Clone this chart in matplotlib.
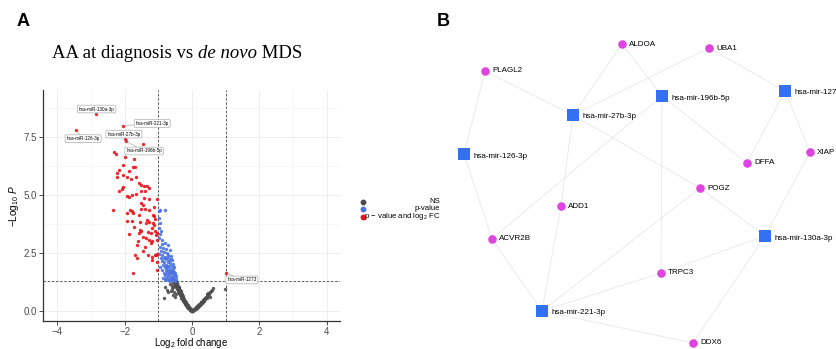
import matplotlib
matplotlib.use("Agg")
import matplotlib.pyplot as plt
from matplotlib.lines import Line2D
import numpy as np

# ---------------- Panel A data (log2 fold change, -log10 P) ----------------
red_lfc = [-2.84, -2.05, -3.43, -2.00, -1.97, -1.46, -2.31, -2.26, -1.98, -1.72,
           -2.06, -1.76, -1.70, -1.88, -2.18, -2.23, -2.06, -2.23, -1.93, -1.82,
           -1.66, -1.58, -1.50, -1.42, -1.34, -1.50, -1.39, -1.28, -2.04, -2.09,
           -2.16, -1.93, -1.88, -1.78, -1.67, -1.42, -1.28, -1.05, -1.51, -1.45,
           -1.12, -2.35, -1.84, -1.78, -1.76, -1.94, -1.51, -1.39, -1.28, -1.56,
           -1.17, -1.12, -1.33, -1.28, -1.36, -1.94, -1.78, -1.54, -1.10, -1.12,
           -1.16, -1.72, -1.54, -1.51, -1.56, -1.31, -1.23, -1.10, -1.05, -1.86,
           -1.45, -1.36, -1.27, -1.20, -1.23, -1.07, -1.03, -1.62, -1.39, -1.69,
           -1.63, -1.30, -1.20, -1.08, -1.04, -1.74, -1.03, -1.19, -1.11, -1.03,
           -1.18, -1.45, -1.60, 1.01]
red_p = [8.50, 7.99, 7.79, 7.40, 7.33, 7.21, 6.84, 6.75, 6.64, 6.56,
         6.29, 6.21, 6.22, 6.05, 6.06, 5.94, 5.86, 5.76, 5.79, 5.70,
         5.76, 5.53, 5.42, 5.39, 5.39, 5.19, 5.19, 5.29, 5.36, 5.27,
         5.19, 4.96, 4.93, 4.99, 5.04, 4.86, 4.84, 4.81, 4.64, 4.58,
         4.50, 4.35, 4.35, 4.32, 4.21, 4.24, 4.41, 4.38, 4.35, 4.15,
         4.15, 4.11, 3.92, 3.82, 3.78, 3.89, 3.88, 3.82, 3.95, 3.71,
         3.78, 3.63, 3.49, 3.45, 3.35, 3.42, 3.35, 3.44, 3.38, 3.33,
         3.20, 3.13, 3.06, 3.03, 2.94, 3.28, 3.06, 2.84, 2.77, 2.41,
         2.27, 2.41, 2.20, 2.41, 2.13, 1.63, 1.75, 2.34, 2.40, 2.44,
         3.60, 2.60, 3.00, 1.65]

blue_lfc = [-0.99, -0.95, -0.80, -0.99, -0.96, -0.97, -0.92, -0.94, -0.98, -0.88,
            -0.80, -0.72, -0.90, -0.96, -0.86, -0.78, -0.66, -0.92, -0.82, -0.74,
            -0.97, -0.88, -0.70, -0.62, -0.80, -0.93, -0.84, -0.76, -0.68, -0.60,
            -0.90, -0.72, -0.82, -0.64, -0.56, -0.86, -0.77, -0.69, -0.60, -0.94,
            -0.81, -0.73, -0.65, -0.55, -0.88, -0.78, -0.70, -0.62, -0.52, -0.84,
            -0.75, -0.67, -0.58, -0.50, -0.80, -0.72, -0.63, -0.55, -0.86, -0.76,
            -0.68, -0.60, -0.52, -0.80, -0.71, -0.64, -0.56, -0.48, -0.46, -0.49,
            -0.58, -0.66, -0.74, -0.54, -0.62, -0.70, -0.50, -0.57]
blue_p = [4.30, 4.36, 4.34, 4.02, 3.80, 3.60, 3.45, 3.30, 3.15, 3.05,
          2.95, 2.85, 2.90, 2.75, 2.72, 2.68, 2.62, 2.58, 2.55, 2.50,
          2.45, 2.42, 2.40, 2.38, 2.35, 2.30, 2.27, 2.24, 2.20, 2.18,
          2.15, 2.12, 2.10, 2.06, 2.04, 2.00, 1.98, 1.95, 1.93, 1.90,
          1.88, 1.85, 1.82, 1.80, 1.78, 1.75, 1.72, 1.70, 1.68, 1.66,
          1.63, 1.60, 1.58, 1.55, 1.54, 1.51, 1.48, 1.46, 1.44, 1.42,
          1.40, 1.37, 1.35, 1.33, 1.32, 1.31, 1.34, 1.40, 1.50, 1.62,
          1.74, 1.68, 1.96, 1.90, 2.26, 2.32, 1.30, 1.44]

grey_lfc = [-0.52, -0.50, -0.48, -0.47, -0.51, -0.45, -0.49, -0.44, -0.46, -0.42,
            -0.48, -0.43, -0.40, -0.45, -0.41, -0.38, -0.43, -0.39, -0.36, -0.41,
            -0.37, -0.34, -0.39, -0.35, -0.32, -0.36, -0.33, -0.30, -0.34, -0.31,
            -0.28, -0.32, -0.29, -0.26, -0.29, -0.27, -0.24, -0.26, -0.23, -0.21,
            -0.24, -0.21, -0.19, -0.21, -0.18, -0.16, -0.18, -0.15, -0.13, -0.14,
            -0.12, -0.10, -0.11, -0.09, -0.07, -0.07, -0.05, -0.04, -0.03, -0.02,
            0.00, -0.80, -0.82, -0.75, -0.70, -0.62, -0.60, -0.58, -0.55, -0.57,
            -0.65, -0.53, -0.50, -0.48, -0.55,
            0.02, 0.04, 0.06, 0.07, 0.09, 0.10, 0.12, 0.13, 0.15, 0.16,
            0.18, 0.19, 0.21, 0.22, 0.24, 0.25, 0.27, 0.28, 0.30, 0.31,
            0.33, 0.34, 0.36, 0.37, 0.39, 0.40, 0.42, 0.44, 0.45, 0.47,
            0.50, 0.52, 0.55, 0.58, 0.61, 0.53, 0.48, 0.43, 0.98, 0.01, -0.01,
            -0.44, -0.40, -0.37, -0.33, -0.30, -0.27, -0.23, -0.20, -0.17, -0.13,
            0.08, 0.14, 0.20, 0.26, 0.32, 0.38, 0.46]
grey_p = [1.28, 1.25, 1.29, 1.22, 1.18, 1.20, 1.12, 1.15, 1.08, 1.10,
          1.04, 1.02, 1.05, 0.97, 0.95, 0.98, 0.90, 0.88, 0.92, 0.84,
          0.82, 0.85, 0.78, 0.75, 0.79, 0.70, 0.68, 0.72, 0.63, 0.62,
          0.65, 0.57, 0.55, 0.58, 0.50, 0.48, 0.51, 0.43, 0.42, 0.45,
          0.37, 0.35, 0.38, 0.30, 0.29, 0.31, 0.24, 0.22, 0.25, 0.18,
          0.16, 0.19, 0.12, 0.10, 0.13, 0.07, 0.05, 0.08, 0.03, 0.01,
          0.02, 1.02, 0.56, 0.92, 0.80, 0.85, 1.10, 0.95, 0.70, 1.20,
          1.15, 0.82, 0.60, 0.72, 1.05,
          0.02, 0.05, 0.04, 0.09, 0.07, 0.12, 0.10, 0.16, 0.14, 0.20,
          0.18, 0.24, 0.22, 0.28, 0.26, 0.32, 0.30, 0.37, 0.35, 0.41,
          0.39, 0.46, 0.44, 0.50, 0.55, 0.52, 0.60, 0.64, 0.58, 0.70,
          0.75, 0.80, 0.85, 0.92, 1.00, 0.62, 0.78, 0.72, 0.95, 0.00, 0.00,
          1.06, 0.94, 0.86, 0.74, 0.66, 0.54, 0.46, 0.34, 0.27, 0.21,
          0.09, 0.19, 0.30, 0.39, 0.48, 0.57, 0.67]

label_names = ["hsa-miR-130a-3p", "hsa-miR-221-3p", "hsa-miR-126-3p",
               "hsa-miR-27b-3p", "hsa-miR-196b-5p", "hsa-miR-1273"]
label_lfc = [-2.84, -2.05, -3.43, -2.00, -1.97, 1.01]
label_p = [8.50, 7.99, 7.79, 7.40, 7.33, 1.65]
# label box placement (layout)
label_box = [(-2.83, 8.71), (-1.18, 8.09), (-3.23, 7.43), (-2.02, 7.63),
             (-1.42, 6.90), (1.48, 1.34)]

x_ticks = [-4, -2, 0, 2, 4]
y_ticks = [0.0, 2.5, 5.0, 7.5]
legend_labels = ["NS", "p-value", r"p $-$ value and log$_2$ FC"]

# ---------------- Panel B data (network) ----------------
mirnas = ["hsa-mir-27b-3p", "hsa-mir-196b-5p", "hsa-mir-1273", "hsa-mir-126-3p",
          "hsa-mir-130a-3p", "hsa-mir-221-3p"]
genes = ["ALDOA", "UBA1", "PLAGL2", "DFFA", "XIAP", "POGZ", "ADD1", "ACVR2B",
         "TRPC3", "DDX6"]
edges = [("PLAGL2", "hsa-mir-27b-3p"), ("PLAGL2", "hsa-mir-126-3p"),
         ("ALDOA", "hsa-mir-27b-3p"), ("ALDOA", "hsa-mir-196b-5p"),
         ("UBA1", "hsa-mir-27b-3p"), ("UBA1", "hsa-mir-1273"),
         ("hsa-mir-1273", "DFFA"), ("hsa-mir-1273", "XIAP"),
         ("hsa-mir-196b-5p", "DFFA"), ("hsa-mir-196b-5p", "TRPC3"),
         ("hsa-mir-196b-5p", "ACVR2B"), ("hsa-mir-27b-3p", "ADD1"),
         ("hsa-mir-27b-3p", "POGZ"), ("ADD1", "hsa-mir-221-3p"),
         ("hsa-mir-126-3p", "ACVR2B"), ("ACVR2B", "hsa-mir-221-3p"),
         ("hsa-mir-221-3p", "POGZ"), ("hsa-mir-221-3p", "TRPC3"),
         ("hsa-mir-221-3p", "DDX6"), ("POGZ", "hsa-mir-130a-3p"),
         ("TRPC3", "hsa-mir-130a-3p"), ("hsa-mir-130a-3p", "DDX6"),
         ("XIAP", "hsa-mir-130a-3p")]
# network layout (pixel-like layout coordinates)
layout = {"ALDOA": (622, 44), "UBA1": (709, 48), "PLAGL2": (485, 71),
          "hsa-mir-1273": (785, 91), "hsa-mir-196b-5p": (662, 96),
          "hsa-mir-27b-3p": (573, 115), "hsa-mir-126-3p": (464, 154),
          "DFFA": (747, 163), "XIAP": (810, 152), "POGZ": (700, 188),
          "ADD1": (561, 206), "ACVR2B": (492, 239), "hsa-mir-130a-3p": (765, 236),
          "TRPC3": (661, 273), "hsa-mir-221-3p": (542, 311), "DDX6": (693, 343)}

# ---------------- Figure ----------------
plt.rcParams['font.family'] = ['Liberation Sans', 'DejaVu Sans']
plt.rcParams['mathtext.fontset'] = 'custom'
plt.rcParams['mathtext.rm'] = 'Liberation Sans'
plt.rcParams['mathtext.it'] = 'Liberation Sans:italic'

W, H = 837, 349
fig = plt.figure(figsize=(W / 100, H / 100), dpi=100)

RED = '#E8141B'
BLUE = '#4A72E0'
GREY = '#4D4D4D'

axA = fig.add_axes([43 / W, 28 / H, 297 / W, 231 / H])
axA.set_xlim(-4.42, 4.39)
axA.set_ylim(-0.43, 9.53)
axA.set_xticks(x_ticks)
axA.set_yticks(y_ticks)
axA.set_yticklabels([f"{v:.1f}" for v in y_ticks])
axA.set_xticks([-3, -1, 1, 3], minor=True)
axA.set_yticks([1.25, 3.75, 6.25, 8.75], minor=True)
axA.grid(True, which='major', color='#EBEBEB', lw=0.6)
axA.grid(True, which='minor', color='#F2F2F2', lw=0.4)
axA.set_axisbelow(True)
for s in ['top', 'right']:
    axA.spines[s].set_visible(False)
for s in ['left', 'bottom']:
    axA.spines[s].set_color('#333333')
    axA.spines[s].set_linewidth(0.9)
axA.tick_params(which='major', length=3, width=0.6, color='#333333',
                labelsize=7, labelcolor='#4D4D4D', pad=1.2)
axA.tick_params(which='minor', length=0)

axA.scatter(grey_lfc, grey_p, s=6, c=GREY, lw=0, alpha=0.9, zorder=3)
axA.scatter(blue_lfc, blue_p, s=6, c=BLUE, lw=0, alpha=0.9, zorder=3)
axA.scatter(red_lfc, red_p, s=6, c=RED, lw=0, alpha=0.9, zorder=3)

axA.axvline(-1, color='#444444', ls=(0, (3, 2)), lw=0.6, zorder=2)
axA.axvline(1, color='#444444', ls=(0, (3, 2)), lw=0.6, zorder=2)
axA.axhline(-np.log10(0.05), color='#444444', ls=(0, (3, 2)), lw=0.6, zorder=2)

for name, x, y, (bx, by) in zip(label_names, label_lfc, label_p, label_box):
    axA.annotate(name, xy=(x, y), xytext=(bx, by), fontsize=3.3, ha='center',
                 va='center', zorder=5,
                 bbox=dict(boxstyle='round,pad=0.3,rounding_size=0.3', fc='white',
                           ec='#999999', lw=0.4),
                 arrowprops=dict(arrowstyle='-', color='#999999', lw=0.4,
                                 shrinkA=0, shrinkB=1))

axA.set_xlabel(r'$\mathrm{Log}_{2}$ fold change', fontsize=6.9, labelpad=-0.3)
axA.set_ylabel(r'$-\mathrm{Log}_{10}\ \mathit{P}$', fontsize=7.2, labelpad=2)

# legend (manual, right aligned text)
leg_y = [201.7, 209.0, 216.7]
leg_c = [GREY, BLUE, RED]
for lab, yy, cc in zip(legend_labels, leg_y, leg_c):
    fig.add_artist(Line2D([362.7 / W], [1 - yy / H], marker='o', ms=3.2, color=cc,
                          lw=0, transform=fig.transFigure))
    fig.text(440.5 / W, 1 - yy / H, lab, ha='right', va='center', fontsize=5.6)

# title with italic part
t1 = fig.text(52 / W, 1 - 53 / H, 'AA at diagnosis vs ', ha='left', va='center',
              fontsize=13.5, family='Liberation Serif')
fig.canvas.draw()
r = fig.canvas.get_renderer()
bb = t1.get_window_extent(r)
t2 = fig.text(bb.x1 / W, 1 - 53 / H, 'de novo', ha='left', va='center',
              fontsize=13.5, family='Liberation Serif', style='italic')
bb2 = t2.get_window_extent(r)
fig.text(bb2.x1 / W, 1 - 53 / H, ' MDS', ha='left', va='center',
         fontsize=13.5, family='Liberation Serif')

fig.text(23 / W, 1 - 21 / H, 'A', ha='center', va='center', fontsize=13,
         fontweight='bold')
fig.text(443 / W, 1 - 21 / H, 'B', ha='center', va='center', fontsize=13,
         fontweight='bold')

# ---------------- Panel B ----------------
axB = fig.add_axes([420 / W, 0, 417 / W, 1])
axB.set_xlim(420, 837)
axB.set_ylim(349, 0)
axB.axis('off')
axB.patch.set_alpha(0)
for a, b in edges:
    (x0, y0), (x1, y1) = layout[a], layout[b]
    axB.plot([x0, x1], [y0, y1], color='#E8E8E8', lw=0.6, zorder=1)
mx = [layout[m][0] for m in mirnas]
my = [layout[m][1] for m in mirnas]
gx = [layout[g][0] for g in genes]
gy = [layout[g][1] for g in genes]
axB.scatter(mx, my, marker='s', s=72, c='#3370F2', lw=0, zorder=3, clip_on=False)
axB.scatter(gx, gy, marker='o', s=38, c='#DE45E0', lw=0, zorder=3, clip_on=False)
for m in mirnas:
    x, y = layout[m]
    axB.text(x + 10, y + 2, m, fontsize=5.8, ha='left', va='center', zorder=4,
             clip_on=False)
for g in genes:
    x, y = layout[g]
    axB.text(x + 7, y, g, fontsize=5.8, ha='left', va='center', zorder=4,
             clip_on=False)

fig.savefig('out.png', dpi=100)
